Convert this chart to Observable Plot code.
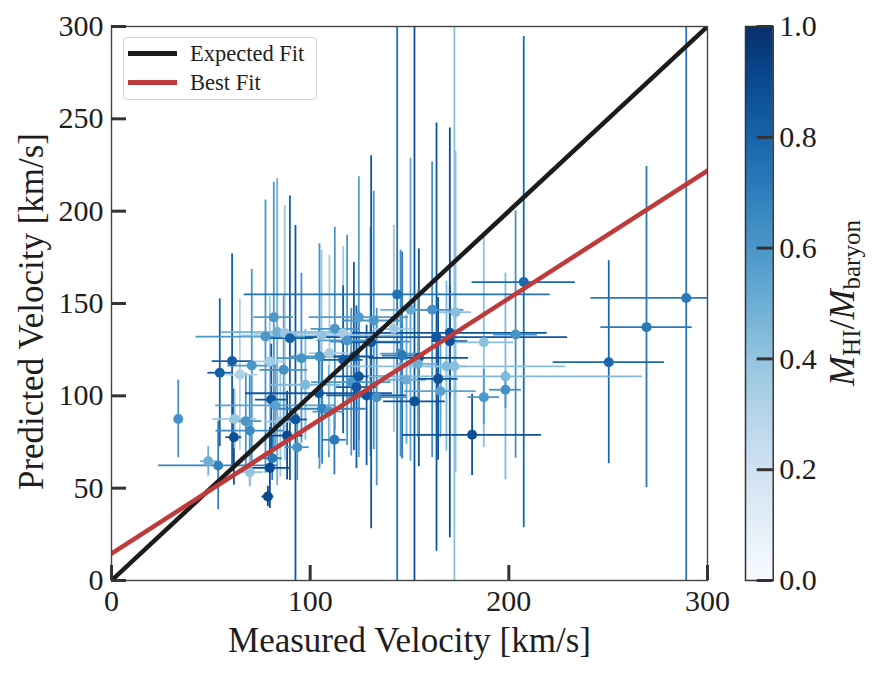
<!DOCTYPE html>
<html>
<head>
<meta charset="utf-8">
<script src="https://cdn.jsdelivr.net/npm/d3@7"></script>
<script src="https://cdn.jsdelivr.net/npm/@observablehq/plot@0.6"></script>
<style>
  body { margin: 0; background: #fff; }
  #wrap { position: relative; width: 880px; height: 675px; font-family: "Liberation Serif", serif; color: #1e1e1e; }
  #main, #cbar { position: absolute; top: 0; }
  #main { left: 0; }
  #cbar { left: 740px; }
  #legend { position: absolute; left: 123px; top: 37px; width: 194px; height: 63px; box-sizing: border-box;
            border: 1px solid #d4d4d4; border-radius: 4px; background: rgba(255,255,255,0.85); }
  .sw { position: absolute; left: 4px; width: 49px; height: 5px; }
  .lt { position: absolute; left: 66px; font-size: 22.5px; line-height: 22px; white-space: nowrap; }
</style>
</head>
<body>
<div id="wrap">
  <div id="main"></div>
  <div id="cbar"></div>
  <div id="legend"></div>
</div>
<script>
// ---- data ----
const measured = [33.6,48.7,53.7,54.5,60.7,61.6,62.0,64.6,67.6,69.6,69.6,70.6,77.5,78.7,79.7,79.7,80.9,80.4,81.7,82.5,83.4,85.0,86.7,87.2,88.4,89.8,92.6,93.5,95.6,97.6,104.4,104.7,105.7,106.0,109.4,109.7,112.2,112.4,116.6,116.6,118.6,120.7,122.0,123.3,124.5,124.5,128.4,130.4,130.7,132.0,133.5,142.1,143.8,145.5,146.3,148.5,150.5,152.5,154.7,154.2,161.4,163.6,164.4,165.6,168.6,170.3,170.3,172.6,173.2,181.5,187.4,187.4,198.3,198.3,203.4,207.5,250.3,269.3,289.3];
const predicted = [87.5,64.6,62.3,112.5,118.8,77.6,87.5,111.5,86.3,81.2,58.7,116.4,132.1,45.5,118.6,61.0,66.2,98.0,142.6,94.8,134.5,86.1,114.1,134.0,78.5,131.2,87.2,72.2,120.4,106.0,101.4,121.3,132.7,93.0,91.5,123.1,76.2,136.3,133.9,119.5,130.0,107.4,121.3,104.7,110.5,142.6,100.2,129.4,129.0,140.8,99.3,136.3,154.9,122.9,121.8,108.7,146.6,97.0,120.6,117.3,146.6,131.8,109.2,102.5,116.0,134.1,129.6,116.0,145.3,78.9,129.0,99.3,110.5,103.3,133.2,161.6,118.2,137.2,153.0];
const measuredErr = [0,4,30,6,10,4,11,9,8,17,7,12,35,3,8,10.5,5,8,10,30,28,8,12,15,8,12,6,6,12,18,37,15,40,22,8,10,6,12,15,10,15,20,10,10,15,25,20,20,15,15,15,10,77,10,10,10,15,15.5,25,10,16,66,10,18,10,49,9,56,8,35,15,8,69,8,11,26,28,23,48];
const predictedErr = [21,8,24,40,58,26,16,41,26,30,8,52,74,5.5,35,22,12,30,73,22,83,30,40,69,24,77,105,18,46,30,35,61,46,30,25,53,19,55,47,40,57,40,51,44,35,76,38,62,101,70,48,56,160,56,56,35,82,210,59,40,80,116,44,25,46,111,30,190,87,22,57,15,56,10,67,133,55,87,160];
const hiFraction = [0.62,0.5,0.68,0.82,0.82,0.88,0.38,0.32,0.6,0.65,0.4,0.6,0.6,0.9,0.35,0.9,0.72,0.85,0.6,0.55,0.5,0.38,0.62,0.38,0.9,0.82,0.85,0.62,0.62,0.45,0.85,0.62,0.4,0.68,0.6,0.35,0.72,0.6,0.35,0.82,0.6,0.6,0.85,0.85,0.85,0.58,0.85,0.62,0.85,0.6,0.62,0.38,0.75,0.62,0.72,0.5,0.52,0.88,0.88,0.5,0.62,0.85,0.88,0.55,0.45,0.88,0.88,0.42,0.42,0.88,0.42,0.6,0.45,0.62,0.62,0.78,0.78,0.72,0.72];

const fitRange = [0, 300];
const bestFitIntercept = 14.6;
const bestFitSlope = 0.691;

const xTicks = [0, 100, 200, 300];
const yTicks = [0, 50, 100, 150, 200, 250, 300];
const cbTicks = [0, 0.2, 0.4, 0.6, 0.8, 1.0];

const xLabel = "Measured Velocity [km/s]";
const yLabel = "Predicted Velocity [km/s]";
const legendLabels = ["Expected Fit", "Best Fit"];
const lineColors = ["#1c1c1c", "#bf3a3a"];

// ---- tables ----
const pts = measured.map((x, i) => ({x, y: predicted[i], xe: measuredErr[i], ye: predictedErr[i], f: hiFraction[i]}));
const expected = fitRange.map(x => ({x, y: x}));
const best = fitRange.map(x => ({x, y: bestFitIntercept + bestFitSlope * x}));

const FONT = "Liberation Serif";
const colorOpt = {type: "linear", scheme: "blues", domain: [0, 1]};

const mT = 26, mB = 95, mL = 111, mR = 33, W = 740, H = 675;
const plotH = H - mT - mB, plotW = W - mL - mR;

const chart = Plot.plot({
  width: W, height: H,
  marginLeft: mL, marginRight: mR, marginTop: mT, marginBottom: mB,
  x: {domain: [0, 300]},
  y: {domain: [0, 300]},
  color: colorOpt,
  style: {fontFamily: FONT, fontSize: "30px", color: "#1e1e1e", background: "transparent"},
  marks: [
    Plot.ruleX(pts, {x: "x", y1: d => d.y - d.ye, y2: d => d.y + d.ye, stroke: "f", strokeWidth: 1.8, clip: true}),
    Plot.ruleY(pts.filter(d => d.xe > 0), {y: "y", x1: d => d.x - d.xe, x2: d => d.x + d.xe, stroke: "f", strokeWidth: 1.8, clip: true}),
    Plot.dot(pts, {x: "x", y: "y", fill: "f", r: 5}),
    Plot.line(expected, {x: "x", y: "y", stroke: lineColors[0], strokeWidth: 4.5, clip: true}),
    Plot.line(best, {x: "x", y: "y", stroke: lineColors[1], strokeWidth: 4.5, clip: true}),
    Plot.frame({stroke: "#444", strokeWidth: 1.4}),
    Plot.ruleX(xTicks, {x: d => d, insetTop: plotH - 15, stroke: "#333", strokeWidth: 3}),
    Plot.ruleY(yTicks, {y: d => d, insetRight: plotW - 15, stroke: "#333", strokeWidth: 3}),
    Plot.axisX({ticks: xTicks, tickSize: 0, tickPadding: 9, fontSize: 30, label: null}),
    Plot.axisY({ticks: yTicks, tickSize: 0, tickPadding: 8, fontSize: 30, label: null}),
    Plot.text([xLabel], {frameAnchor: "bottom", textAnchor: "middle", lineAnchor: "middle", dy: 60, fontSize: 35, text: d => d}),
    Plot.text([yLabel], {frameAnchor: "left", textAnchor: "middle", lineAnchor: "middle", dx: -80, dy: 8, rotate: -90, fontSize: 35, text: d => d})
  ]
});
document.getElementById("main").appendChild(chart);

// ---- colorbar ----
const cbStep = 0.005;
const cbSteps = d3.range(0, 1, cbStep);
const cbW = 140, cbL = 5, cbR = cbW - 32.7;
const cb = Plot.plot({
  width: cbW, height: H,
  marginLeft: cbL, marginRight: cbR, marginTop: mT, marginBottom: mB,
  x: {domain: [0, 1], axis: null},
  y: {domain: [0, 1]},
  color: colorOpt,
  style: {fontFamily: FONT, fontSize: "30px", color: "#1e1e1e", background: "transparent"},
  marks: [
    Plot.rect(cbSteps, {x1: 0, x2: 1, y1: d => d, y2: d => Math.min(1, d + cbStep * 1.5), fill: d => d + cbStep / 2}),
    Plot.frame({stroke: "#333", strokeWidth: 1.5}),
    Plot.ruleY(cbTicks, {y: d => d, insetLeft: (32.7 - cbL) - 16, stroke: "#333", strokeWidth: 3}),
    Plot.axisY({anchor: "right", ticks: cbTicks, tickSize: 0, tickPadding: 6, tickFormat: d3.format(".1f"), fontSize: 30, label: null})
  ]
});
document.getElementById("cbar").appendChild(cb);

const t = d3.select(cb).append("text")
  .attr("transform", "translate(114,303) rotate(-90)")
  .attr("text-anchor", "middle")
  .attr("font-family", FONT)
  .attr("font-size", 36)
  .attr("fill", "#1e1e1e");
t.append("tspan").attr("font-style", "italic").text("M");
t.append("tspan").attr("font-size", 25).attr("dy", 6).text("HI");
t.append("tspan").attr("dy", -6).text("/");
t.append("tspan").attr("font-style", "italic").text("M");
t.append("tspan").attr("font-size", 25).attr("dy", 6).text("baryon");

// ---- legend ----
const leg = d3.select("#legend");
legendLabels.forEach((lab, i) => {
  leg.append("div").attr("class", "sw").style("top", (13 + i * 29) + "px").style("background", lineColors[i]);
  leg.append("div").attr("class", "lt").style("top", (5 + i * 29) + "px").text(lab);
});
</script>
</body>
</html>
